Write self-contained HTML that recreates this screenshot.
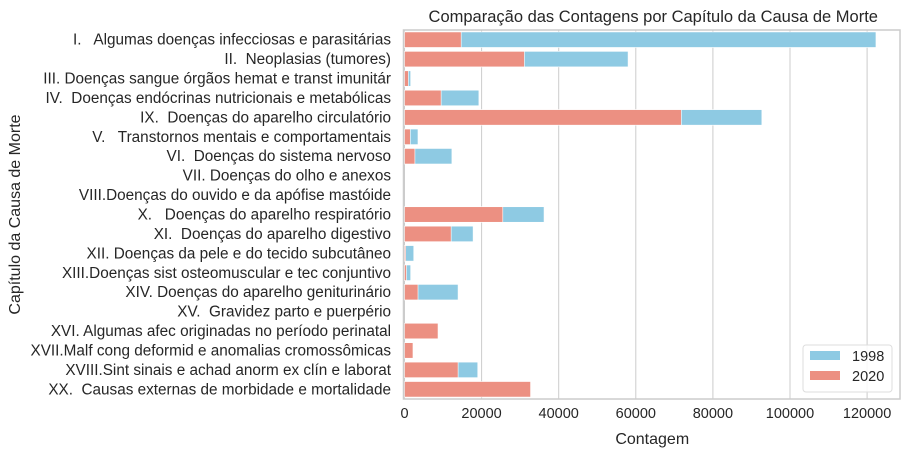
<!DOCTYPE html>
<html><head><meta charset="utf-8"><style>
body{margin:0;background:#fff;font-family:"Liberation Sans","DejaVu Sans",sans-serif}
text{white-space:pre}
</style></head><body>
<svg id="c" width="909" height="457" xmlns="http://www.w3.org/2000/svg" font-family="Liberation Sans, DejaVu Sans, sans-serif"></svg>
<script>
const categories=["I.   Algumas doenças infecciosas e parasitárias","II.  Neoplasias (tumores)","III. Doenças sangue órgãos hemat e transt imunitár","IV.  Doenças endócrinas nutricionais e metabólicas","IX.  Doenças do aparelho circulatório","V.   Transtornos mentais e comportamentais","VI.  Doenças do sistema nervoso","VII. Doenças do olho e anexos","VIII.Doenças do ouvido e da apófise mastóide","X.   Doenças do aparelho respiratório","XI.  Doenças do aparelho digestivo","XII. Doenças da pele e do tecido subcutâneo","XIII.Doenças sist osteomuscular e tec conjuntivo","XIV. Doenças do aparelho geniturinário","XV.  Gravidez parto e puerpério","XVI. Algumas afec originadas no período perinatal","XVII.Malf cong deformid e anomalias cromossômicas","XVIII.Sint sinais e achad anorm ex clín e laborat","XX.  Causas externas de morbidade e mortalidade"];
const values1998=[122300,58000,1600,19300,92700,3500,12300,0,0,36200,17800,2400,1600,13900,0,0,0,19000,0];
const values2020=[14700,31100,1000,9500,71800,1500,2700,0,0,25500,12100,300,500,3500,0,8700,2200,13900,32700];
const xTicks=[0,20000,40000,60000,80000,100000,120000];
const NS="http://www.w3.org/2000/svg",svg=document.getElementById("c");
const L=404.5,R=900,T=30,B=399,K=0.003855;
const x=v=>L+v*K, step=(B-T)/categories.length, yc=i=>T+step*(i+0.5), bh=step*0.8;
function el(t,a,txt){const e=document.createElementNS(NS,t);for(const k in a)e.setAttribute(k,a[k]);if(txt!==undefined)e.textContent=txt;svg.appendChild(e);return e;}
xTicks.forEach(t=>{
const g=el("line",{x1:x(t),x2:x(t),y1:T,y2:B,stroke:"#cccccc","stroke-width":1});


const tl=el("text",{x:x(t),y:B+19,"text-anchor":"middle","font-size":14.5,fill:"#262626"},t);


});
categories.forEach((c,i)=>{
const b1=el("rect",{x:x(0),y:yc(i)-bh/2,width:values1998[i]*K,height:bh,fill:"#8ecae3",stroke:"#fff","stroke-width":0.6});


const b2=el("rect",{x:x(0),y:yc(i)-bh/2,width:values2020[i]*K,height:bh,fill:"#ec9082",stroke:"#fff","stroke-width":0.6});


const lb=el("text",{x:L-13.5,y:yc(i)+5,"text-anchor":"end","font-size":15.3,fill:"#262626"},c);


});
const fr=el("rect",{x:L-1,y:T,width:R-L+1,height:B-T,fill:"none",stroke:"#cccccc","stroke-width":1.5});


const ti=el("text",{x:(L+R)/2+1,y:22,"text-anchor":"middle","font-size":16.5,fill:"#262626"},"Comparação das Contagens por Capítulo da Causa de Morte");


const xt=el("text",{x:(L+R)/2,y:444,"text-anchor":"middle","font-size":16,fill:"#262626"},"Contagem");


const yt=el("text",{x:20,y:(T+B)/2,"text-anchor":"middle","font-size":16,fill:"#262626",transform:`rotate(-90 20 ${(T+B)/2})`},"Capítulo da Causa de Morte");


const lg=el("rect",{x:803,y:345,width:89,height:47,rx:3,fill:"#fff","fill-opacity":0.85,stroke:"#dddddd"});


[["1998","#8ecae3"],["2020","#ec9082"]].forEach((d,i)=>{
const s=el("rect",{x:810,y:351+i*20,width:30,height:9,fill:d[1]});


const t=el("text",{x:852,y:361+i*20,"font-size":14.5,fill:"#262626"},d[0]);


});
</script>
</body></html>
